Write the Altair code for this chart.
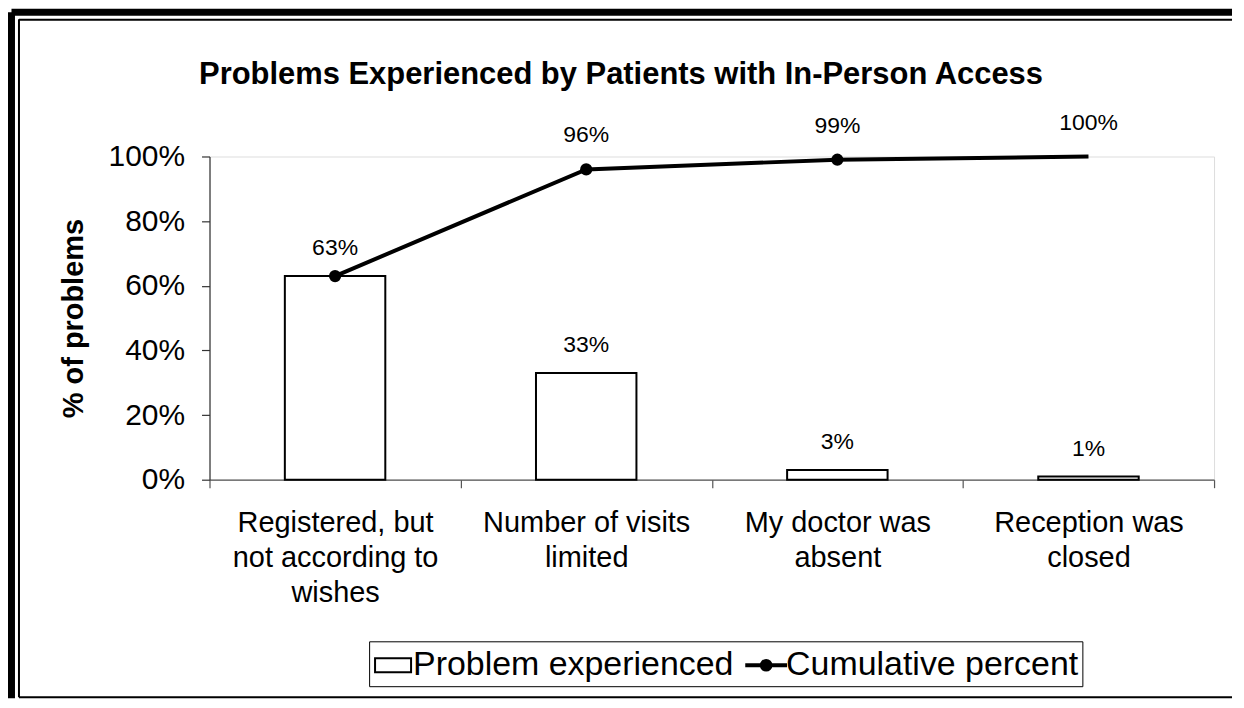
import altair as alt
import pandas as pd

categories = [
    "Registered, but\nnot according to\nwishes",
    "Number of visits\nlimited",
    "My doctor was\nabsent",
    "Reception was\nclosed",
]
problem_share = [0.63, 0.33, 0.03, 0.01]
cumulative_share = [0.63, 0.96, 0.99, 1.00]
series_names = ["Problem experienced", "Cumulative percent"]
y_ticks = [0, 0.2, 0.4, 0.6, 0.8, 1.0]
title_text = "Problems Experienced by Patients with In-Person Access"

FONT = "Liberation Sans"

df = pd.DataFrame({
    "cat": categories,
    "idx": list(range(len(categories))),
    "problem": problem_share,
    "cum": cumulative_share,
    "series": series_names[0],
})

x_enc = alt.X(
    "cat:N",
    sort=categories,
    scale=alt.Scale(paddingInner=0, paddingOuter=0),
    axis=alt.Axis(
        title=None, labelAngle=0, labelFont=FONT, labelFontSize=29,
        labelLineHeight=35, labelColor="black", labelLimit=0, labelPadding=21,
        labelExpr="split(datum.label, '\\n')",
        tickBand="extent", tickSize=8, tickColor="#555", domainColor="#555",
        domainWidth=1.2, tickWidth=1.2,
    ),
)
y_scale = alt.Scale(domain=[0, 1], nice=False)
y_axis = alt.Axis(
    values=y_ticks, format=".0%", grid=False, tickSize=8, labelPadding=17,
    labelFont=FONT, labelFontSize=30, labelColor="black",
    title="% of problems", titleFont=FONT, titleFontSize=29,
    titleFontWeight="bold", titleColor="black", titlePadding=20,
    domainColor="#333", tickColor="#333", domainWidth=1.2, tickWidth=1.2,
)

base = alt.Chart(df)

bars = base.mark_bar(
    fill="white", stroke="black", strokeWidth=2,
    width=alt.RelativeBandSize(0.4),
).encode(x=x_enc, y=alt.Y("problem:Q", scale=y_scale, axis=y_axis))

bar_labels = base.mark_text(
    font=FONT, fontSize=23, baseline="middle", dy=-28, color="black"
).encode(
    x=alt.X("cat:N", sort=categories),
    y=alt.Y("problem:Q"),
    text=alt.Text("problem:Q", format=".0%"),
)

line = base.mark_line(color="black", strokeWidth=4).encode(
    x=alt.X("cat:N", sort=categories), y=alt.Y("cum:Q")
)

points = base.transform_filter("datum.idx < 3").mark_point(
    filled=True, color="black", size=150, opacity=1
).encode(x=alt.X("cat:N", sort=categories), y=alt.Y("cum:Q"))

line_labels = base.transform_filter("datum.idx > 0").mark_text(
    font=FONT, fontSize=23, baseline="middle", dy=-34, color="black"
).encode(
    x=alt.X("cat:N", sort=categories),
    y=alt.Y("cum:Q"),
    text=alt.Text("cum:Q", format=".0%"),
)

rect_path = "M-0.95,-0.37H0.95V0.37H-0.95Z"
line_path = ("M-1.05,-0.05H1.05V0.05H-1.05Z "
             "M-0.28,0A0.28,0.28 0 1,0 0.28,0A0.28,0.28 0 1,0 -0.28,0Z")

legend_def = alt.Legend(
    title=None, orient="none", legendX=160, legendY=486,
    direction="horizontal", strokeColor="black", padding=4,
    labelFont=FONT, labelFontSize=34, labelColor="black", labelOffset=0,
    symbolSize=1444, symbolStrokeWidth=2, symbolOpacity=1, columnPadding=8,
    labelLimit=0,
)
legend_carrier = base.transform_filter("false").mark_point(
    filled=True, opacity=1
).encode(
    shape=alt.Shape("series:N", scale=alt.Scale(domain=series_names, range=[rect_path, line_path]), legend=legend_def),
    fill=alt.Fill("series:N", scale=alt.Scale(domain=series_names, range=["white", "black"]), legend=legend_def),
    stroke=alt.Stroke("series:N", scale=alt.Scale(domain=series_names, range=["black", "black"]), legend=legend_def),
)

one = alt.Data(values=[{"k": 1}])
frame_parts = [
    alt.Chart(one).mark_rule(color="black", strokeWidth=7).encode(
        x=alt.value(-198.5), y=alt.value(-144.5), y2=alt.value(543)),
    alt.Chart(one).mark_rule(color="black", strokeWidth=7).encode(
        x=alt.value(-198.5), x2=alt.value(1025), y=alt.value(-144.5)),
    alt.Chart(one).mark_rule(color="black", strokeWidth=2).encode(
        x=alt.value(-191), y=alt.value(-137.5), y2=alt.value(542)),
    alt.Chart(one).mark_rule(color="black", strokeWidth=2).encode(
        x=alt.value(-191), x2=alt.value(1025), y=alt.value(-137)),
    alt.Chart(one).mark_rule(color="black", strokeWidth=2).encode(
        x=alt.value(-191), x2=alt.value(1025), y=alt.value(542)),
]

chart = alt.layer(
    bars, bar_labels, line, points, line_labels, legend_carrier, *frame_parts
).properties(
    width=1007, height=324, padding=0,
    title=alt.TitleParams(
        title_text, font=FONT, fontSize=31, fontWeight="bold", color="black",
        anchor="middle", dx=-91, offset=-82,
    ),
).configure_view(stroke=None).configure(background="white")

chart.save("out.html", embed_options={"renderer": "svg", "actions": False})
